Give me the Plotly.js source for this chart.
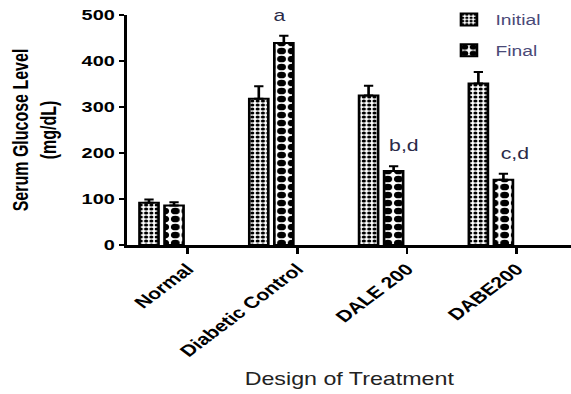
<!DOCTYPE html>
<html>
<head>
<meta charset="utf-8">
<script src="https://cdn.plot.ly/plotly-3.0.1.min.js"></script>
<style>
  html, body { margin: 0; padding: 0; background: #fff; overflow: hidden; }
  #wrap { width: 571px; height: 394px; overflow: hidden; }
  /* the figure is laid out narrow and widened horizontally */
  #chart { width: 430px; height: 394px; transform: scaleX(1.328); transform-origin: 0 0; }
</style>
</head>
<body>
<div id="wrap"><div id="chart"></div></div>
<script>
// Serum glucose (mg/dL), mean and upper SEM per treatment group
const groups = ['Normal', 'Diabetic Control', 'DALE 200', 'DABE200'];
const initialMean = [92, 318, 325, 351];
const initialSem = [7, 27, 21, 25];
const finalMean = [86, 439, 161, 142];
const finalSem = [7, 16, 10, 13];
const marks = ['', 'a', 'b,d', 'c,d'];
const yTicks = [0, 100, 200, 300, 400, 500];

const idx = groups.map((_, i) => i);
const zeros = groups.map(() => 0);

const barStyle = (size, solidity) => ({
  color: '#ffffff',
  line: { color: '#000000', width: 2 },
  pattern: { shape: '.', fgcolor: '#000000', bgcolor: '#ffffff', size: size, solidity: solidity, fillmode: 'replace' }
});

const errStyle = (vals) => ({
  type: 'data', symmetric: false, array: vals, arrayminus: zeros,
  color: '#000000', thickness: 2, width: 3.5
});

const traces = [
  {
    type: 'bar', name: 'Initial', x: idx, y: initialMean,
    marker: barStyle(4, 0.5), error_y: errStyle(initialSem), legendgroup: 'i'
  },
  {
    type: 'bar', name: 'Final', x: idx, y: finalMean,
    marker: barStyle(8, 0.55), error_y: errStyle(finalSem), legendgroup: 'f'
  }
];

const markShift = { 'a': -3, 'b,d': 8, 'c,d': 8 };
const annotations = idx.filter(i => marks[i]).map(i => ({
  x: i + 0.114, y: finalMean[i] + finalSem[i], xref: 'x', yref: 'y',
  text: marks[i], showarrow: false, xanchor: 'center', yanchor: 'bottom',
  xshift: markShift[marks[i]], yshift: 10,
  font: { family: 'Liberation Sans, Arial, sans-serif', size: 16, color: '#2a2a48' }
}));

const layout = {
  width: 430, height: 394,
  margin: { l: 96, r: 0, t: 15, b: 149 },
  paper_bgcolor: '#ffffff', plot_bgcolor: '#ffffff',
  barmode: 'group', bargap: 0.544, bargroupgap: 0.24,
  showlegend: true,
  legend: {
    x: 0.71, xanchor: 'left', y: 1.05, yanchor: 'top',
    bgcolor: 'rgba(0,0,0,0)', tracegroupgap: 9,
    font: { family: 'Liberation Sans, Arial, sans-serif', size: 14.5, color: '#4a4a78' }
  },
  xaxis: {
    range: [-0.31, 3.73], showgrid: false, zeroline: false,
    showline: true, linecolor: '#000000', linewidth: 2.5,
    tickmode: 'array', tickvals: idx.map(i => i + 0.236), ticktext: groups,
    ticks: 'outside', ticklen: 6, tickwidth: 2, tickcolor: '#000000',
    tickangle: -45,
    tickfont: { family: 'Liberation Sans, Arial, sans-serif', size: 16, color: '#000000', weight: 'bold' },
    title: {
      text: 'Design of Treatment', standoff: 14,
      font: { family: 'Liberation Sans, Arial, sans-serif', size: 17.5, color: '#222222' }
    }
  },
  yaxis: {
    range: [0, 500], showgrid: false, zeroline: false,
    showline: true, linecolor: '#000000', linewidth: 2.5,
    tickmode: 'array', tickvals: yTicks,
    ticks: 'outside', ticklen: 4, tickwidth: 2, tickcolor: '#000000',
    tickfont: { family: 'Liberation Sans, Arial, sans-serif', size: 15, color: '#000000', weight: 'bold' },
    title: {
      text: 'Serum Glucose Level<br>(mg/dL)', standoff: 15,
      font: { family: 'Liberation Sans, Arial, sans-serif', size: 16, color: '#000000', weight: 'bold' }
    }
  },
  annotations: annotations
};

Plotly.newPlot('chart', traces, layout, { displayModeBar: false, staticPlot: true });
</script>
</body>
</html>
